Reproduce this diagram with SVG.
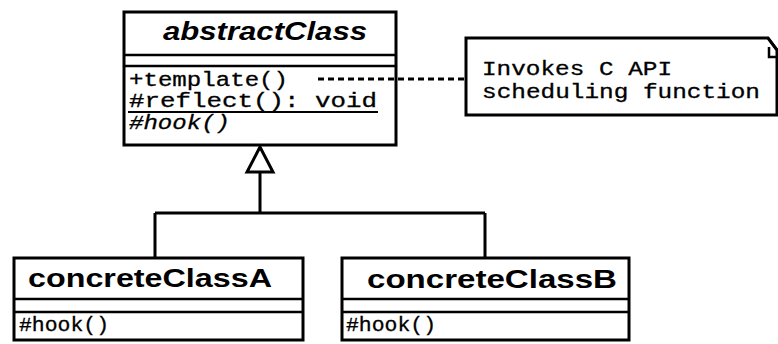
<svg xmlns="http://www.w3.org/2000/svg" width="778" height="344" viewBox="0 0 778 344">
  <style>
    .box { fill: #fff; stroke: #000; stroke-width: 3; }
    .div { stroke: #000; stroke-width: 2.5; fill: none; }
    .name { font-family: "Liberation Sans", Arial, sans-serif; font-weight: bold; font-size: 25px; fill: #000; }
    .op { font-family: "Liberation Mono", "Courier New", monospace; font-size: 20px; fill: #000; stroke: #000; stroke-width: 0.3; }
    .line { stroke: #000; stroke-width: 3; fill: none; }
  </style>
  <rect width="778" height="344" fill="#fff"/>

  <!-- abstract class -->
  <g id="abstractClass">
    <rect class="box" x="124" y="12" width="272" height="133"/>
    <line class="div" x1="124" y1="55" x2="396" y2="55"/>
    <line class="div" x1="124" y1="66" x2="396" y2="66"/>
    <text class="name" x="163" y="40" font-style="italic" textLength="204" lengthAdjust="spacingAndGlyphs">abstractClass</text>
    <text class="op" x="129" y="86" textLength="159" lengthAdjust="spacingAndGlyphs">+template()</text>
    <text class="op" x="129" y="107" textLength="248" lengthAdjust="spacingAndGlyphs">#reflect(): void</text>
    <line x1="128" y1="112" x2="378" y2="112" stroke="#000" stroke-width="2"/>
    <text class="op" x="129" y="129" font-style="italic" textLength="101" lengthAdjust="spacingAndGlyphs">#hook()</text>
  </g>

  <!-- note -->
  <g id="note">
    <path class="box" d="M466,38 H768 L777,50 V115 H466 Z"/>
    <path class="div" d="M768,38 L777,50 M769,47 V57 H777"/>
    <text class="op" x="482" y="75" textLength="190" lengthAdjust="spacingAndGlyphs">Invokes C API</text>
    <text class="op" x="482" y="98" textLength="278" lengthAdjust="spacingAndGlyphs">scheduling function</text>
  </g>

  <!-- concrete class A -->
  <g id="concreteClassA">
    <rect class="box" x="14" y="258" width="289" height="82"/>
    <line class="div" x1="14" y1="299" x2="303" y2="299"/>
    <line class="div" x1="14" y1="312" x2="303" y2="312"/>
    <text class="name" x="28" y="287" textLength="244" lengthAdjust="spacingAndGlyphs">concreteClassA</text>
    <text class="op" x="19" y="331" font-size="19" textLength="90" lengthAdjust="spacingAndGlyphs">#hook()</text>
  </g>

  <!-- concrete class B -->
  <g id="concreteClassB">
    <rect class="box" x="342" y="258" width="287" height="82"/>
    <line class="div" x1="342" y1="299" x2="629" y2="299"/>
    <line class="div" x1="342" y1="312" x2="629" y2="312"/>
    <text class="name" x="367" y="288" textLength="250" lengthAdjust="spacingAndGlyphs">concreteClassB</text>
    <text class="op" x="346" y="331" font-size="19" textLength="90" lengthAdjust="spacingAndGlyphs">#hook()</text>
  </g>

  <!-- connectors -->
  <g id="connectors">
    <!-- generalization tree -->
    <path class="line" d="M260,172 V213 M155,213 H485 M155,213 V257 M485,213 V257"/>
    <polygon points="260,147 247,172 273,172" fill="#fff" stroke="#000" stroke-width="3"/>
    <!-- note anchor, starting right after +template() -->
    <line x1="318" y1="79" x2="465" y2="79" stroke="#000" stroke-width="3" stroke-dasharray="6 4"/>
  </g>
</svg>
